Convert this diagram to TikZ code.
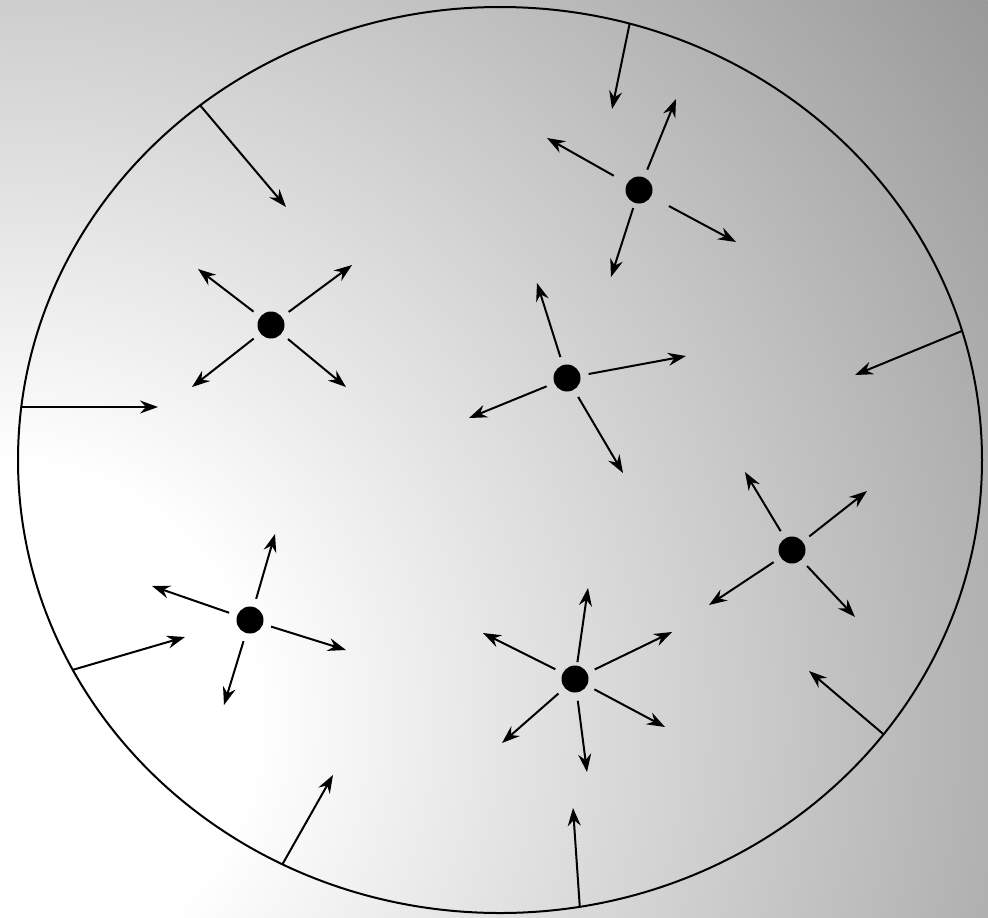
\documentclass[tikz,border=0pt]{standalone}
\usetikzlibrary{arrows.meta}
\definecolor{cShade}{gray}{0.6}
\pgfdeclareradialshading{glow}{\pgfpointorigin}{color(0bp)=(white); color(5.2bp)=(white); color(25bp)=(cShade); color(50bp)=(cShade)}
\tikzset{
	rim/.style ={draw=black, line width=0.4mm},
	dot/.style ={circle, fill=black, minimum size=5.4mm, inner sep=0pt, outer sep=1.7mm},
	ray/.style ={-{Stealth[length=3.6mm, width=2.6mm, inset=1.2mm]}, line width=0.4mm},
}
\begin{document}
\begin{tikzpicture}[x=0.2mm, y=-0.2mm]
	\useasboundingbox (0,0) rectangle (988,917);
	% background
	\begin{scope}
		\clip (0,0) rectangle (988,917);
		\shade[shading=glow] (0,720) circle (1222);
	\end{scope}
	\draw[rim] (500,460) ellipse [x radius=482, y radius=453];
	% sources
	\node[dot] (d1) at (639,190) {};
	\node[dot] (d2) at (271,325) {};
	\node[dot] (d3) at (567,378) {};
	\node[dot] (d4) at (792,550) {};
	\node[dot] (d5) at (250,620) {};
	\node[dot] (d6) at (575,679) {};
	% outgoing tips
	\coordinate (d1ne) at (676,99);  \coordinate (d1w) at (547,138);
	\coordinate (d1se) at (736,242); \coordinate (d1s) at (611,277);
	\coordinate (d2nw) at (198,269); \coordinate (d2ne) at (352,265);
	\coordinate (d2sw) at (192,387); \coordinate (d2se) at (346,387);
	\coordinate (d3n) at (537,283);  \coordinate (d3e) at (686,356);
	\coordinate (d3w) at (469,418);  \coordinate (d3se) at (623,473);
	\coordinate (d4nw) at (745,472); \coordinate (d4ne) at (867,491);
	\coordinate (d4sw) at (709,605); \coordinate (d4se) at (855,617);
	\coordinate (d5n) at (275,534);  \coordinate (d5w) at (152,586);
	\coordinate (d5e) at (346,650);  \coordinate (d5s) at (224,705);
	\coordinate (d6n) at (588,588);  \coordinate (d6nw) at (483,633);
	\coordinate (d6ne) at (672,632); \coordinate (d6sw) at (502,743);
	\coordinate (d6s) at (587,772);  \coordinate (d6se) at (665,727);
	\draw[ray] (d1) -- (d1ne);
	\draw[ray, shorten <=1.4mm] (d1) -- (d1w);
	\draw[ray, shorten <=2.4mm] (d1) -- (d1se);
	\draw[ray, shorten <=-0.6mm] (d1) -- (d1s);
	\foreach \t in {nw,ne,sw,se} \draw[ray] (d2) -- (d2\t);
	\foreach \t in {n,e,w,se} \draw[ray] (d3) -- (d3\t);
	\foreach \t in {nw,ne,sw,se} \draw[ray] (d4) -- (d4\t);
	\foreach \t in {n,w,e,s} \draw[ray] (d5) -- (d5\t);
	\foreach \t in {nw,ne,sw,se} \draw[ray] (d6) -- (d6\t);
	\draw[ray, shorten <=-1mm] (d6) -- (d6n);
	\draw[ray] (d6) -- (d6s);
	% incoming from the rim
	\coordinate (r1) at (629.6,23.7);  \coordinate (in1) at (612,109);
	\coordinate (r2) at (200.1,105.3); \coordinate (in2) at (286,207);
	\coordinate (r3) at (21.3,407);    \coordinate (in3) at (158,407);
	\coordinate (r4) at (962.1,330.9); \coordinate (in4) at (855,375);
	\coordinate (r5) at (72.6,669.9);  \coordinate (in5) at (185,637);
	\coordinate (r6) at (883.6,734.3); \coordinate (in6) at (809,671);
	\coordinate (r7) at (282.3,864.5); \coordinate (in7) at (333,775);
	\coordinate (r8) at (579.8,906.9); \coordinate (in8) at (573,808);
	\foreach \i in {1,...,8} \draw[ray] (r\i) -- (in\i);
\end{tikzpicture}
\end{document}
